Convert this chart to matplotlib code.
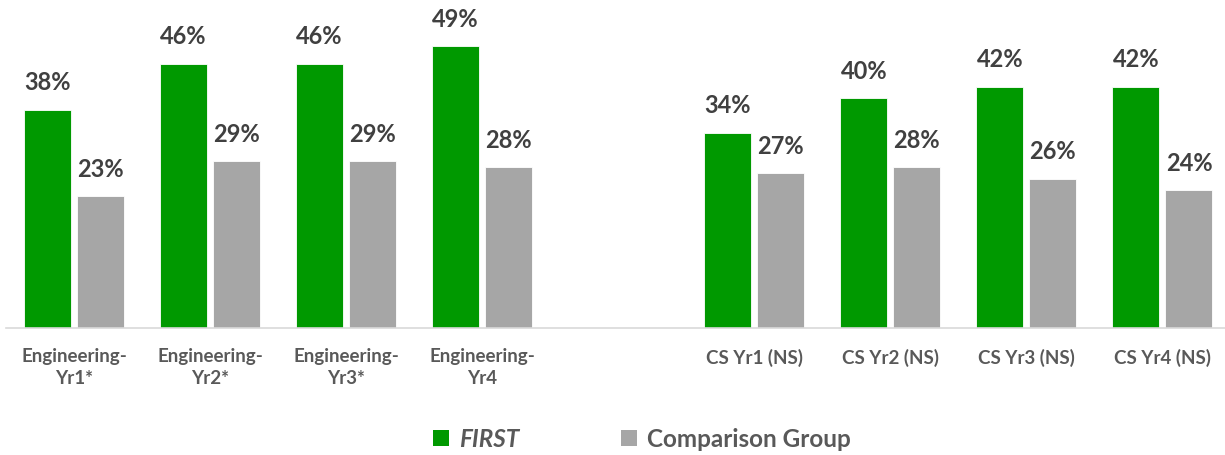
import matplotlib
matplotlib.use("Agg")
import matplotlib.pyplot as plt
from matplotlib.patches import Patch
import numpy as np

plt.rcParams['font.family'] = ['Lato', 'DejaVu Sans']

categories = ["Engineering-\nYr1*", "Engineering-\nYr2*", "Engineering-\nYr3*", "Engineering-\nYr4",
              "", "CS Yr1 (NS)", "CS Yr2 (NS)", "CS Yr3 (NS)", "CS Yr4 (NS)"]
first_vals = [38, 46, 46, 49, None, 34, 40, 42, 42]
comp_vals = [23, 29, 29, 28, None, 27, 28, 26, 24]

GREEN = "#009900"
GRAY = "#a6a6a6"

fig = plt.figure(figsize=(12.25, 4.56), dpi=100)
ax = fig.add_axes([6/1225, 1-329/456, 1-6/1225, 316.25/456])

x = np.arange(len(categories))
w = 0.345
off = 0.195
for i in range(len(categories)):
    if first_vals[i] is None:
        continue
    ax.bar(x[i]-off, first_vals[i], w, color=GREEN, edgecolor="white", linewidth=0.6)
    ax.bar(x[i]+off, comp_vals[i], w, color=GRAY, edgecolor="white", linewidth=0.6)
    ax.text(x[i]-off, first_vals[i]+2.8, f"{first_vals[i]}%", ha="center", va="bottom",
            fontsize=17, fontweight="bold", color="#404040")
    ax.text(x[i]+off, comp_vals[i]+2.8, f"{comp_vals[i]}%", ha="center", va="bottom",
            fontsize=17, fontweight="bold", color="#404040")

ax.set_xlim(-0.5, 8.46)
ax.set_ylim(0, 55)
ax.set_xticks(x)
ax.set_xticklabels(categories, fontsize=13.5, fontweight="bold", color="#595959", linespacing=1.35)
ax.tick_params(axis="x", length=0, pad=14)
ax.set_yticks([])
for s in ["top", "right", "left"]:
    ax.spines[s].set_visible(False)
ax.spines["bottom"].set_color("#d9d9d9")
ax.spines["bottom"].set_linewidth(1.2)

handles = [Patch(facecolor=GREEN, label="FIRST"), Patch(facecolor=GRAY, label="Comparison Group")]
leg = fig.legend(handles=handles, loc="center", bbox_to_anchor=(642/1225, 1-440/456), ncol=2,
                 frameon=False, fontsize=17.5, handlelength=0.65, handleheight=0.65,
                 handletextpad=0.4, columnspacing=4.2)
for t in leg.get_texts():
    t.set_fontweight("bold")
    t.set_color("#595959")
leg.get_texts()[0].set_fontstyle("italic")

fig.savefig("out.png", dpi=100)
